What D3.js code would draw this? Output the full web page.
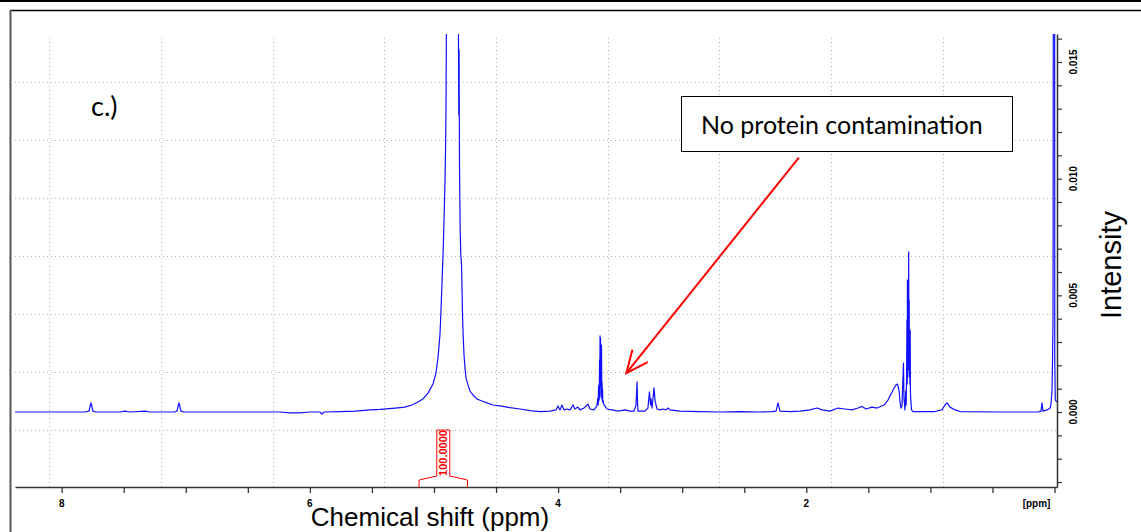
<!DOCTYPE html>
<html>
<head>
<meta charset="utf-8">
<script src="https://cdn.jsdelivr.net/npm/d3@7"></script>
<style>
  body { margin: 0; background: #fff; }
  svg { display: block; }
</style>
</head>
<body>
<svg id="chart" width="1141" height="532"></svg>
<script>
// 1H spectrum: [chemical shift (ppm), intensity]
// peaks that run off the top are given an off-scale value and clipped
const spectrum = [
    [8.376,0],[7.812,0],[7.780,0.00004],[7.764,0.00039],[7.748,0.00004],[7.724,0],[7.530,0],[7.490,0.00004],
    [7.450,0],[7.329,0.00004],[7.289,0],[7.087,0],[7.071,0.00004],[7.055,0.00039],[7.039,0.00004],[7.014,0],
    [6.563,0],[6.241,0],[6.160,-0.00004],[6.080,-0.00004],[5.999,0],[5.919,0],[5.903,-0.00009],[5.886,0],
    [5.757,0.00002],[5.637,0.00004],[5.516,0.00009],[5.435,0.00011],[5.314,0.00017],[5.234,0.00021],
    [5.177,0.00030],[5.129,0.00043],[5.089,0.00056],[5.048,0.00081],[5.008,0.00120],[4.984,0.00167],
    [4.968,0.00231],[4.952,0.00330],[4.944,0.00429],[4.936,0.00544],[4.927,0.00673],[4.919,0.00823],
    [4.911,0.00994],[4.907,0.01123],[4.903,0.01307],[4.900,0.0165],[4.855,0.05],[4.803,0.0165],
    [4.800,0.01273],[4.798,0.01552],[4.794,0.01037],[4.789,0.00780],[4.784,0.00673],[4.778,0.00630],
    [4.774,0.00523],[4.770,0.00416],[4.765,0.00330],[4.758,0.00244],[4.750,0.00189],[4.742,0.00146],
    [4.726,0.00116],[4.710,0.00090],[4.686,0.00073],[4.654,0.00056],[4.613,0.00047],[4.573,0.00039],
    [4.525,0.00030],[4.468,0.00026],[4.388,0.00019],[4.307,0.00013],[4.226,0.00006],[4.146,0.00002],
    [4.065,0.00004],[4.017,0.00009],[4.001,0.00026],[3.985,0.00009],[3.969,0.00030],[3.952,0.00009],
    [3.928,0.00013],[3.904,0.00009],[3.880,0.00030],[3.864,0.00013],[3.840,0.00021],[3.824,0.00009],
    [3.791,0.00017],[3.759,0.00034],[3.743,0.00013],[3.711,0.00009],[3.687,0.00026],[3.680,0.00060],
    [3.677,0.00030],[3.674,0.00110],[3.672,0.00045],[3.670,0.00120],[3.668,0.00055],[3.666,0.00223],
    [3.664,0.00070],[3.662,0.00326],[3.660,0.00300],[3.658,0.00317],[3.656,0.00110],[3.654,0.00180],
    [3.652,0.00060],[3.650,0.00287],[3.648,0.00080],[3.646,0.00129],[3.644,0.00050],[3.642,0.00100],
    [3.640,0.00040],[3.638,0.00051],[3.630,0.00030],[3.622,0.00026],[3.606,0.00013],
    [3.566,0.00009],[3.517,0.00004],[3.461,0.00009],[3.421,0.00004],[3.388,0.00004],[3.372,0.00030],
    [3.364,0.00129],[3.359,0.00030],[3.356,0.00004],[3.300,0.00004],[3.276,0.00017],[3.264,0.00086],
    [3.255,0.00030],[3.251,0.00056],[3.243,0.00017],[3.235,0.00060],[3.227,0.00103],[3.219,0.00051],
    [3.211,0.00030],[3.203,0.00013],[3.179,0.00009],[3.155,0.00013],[3.131,0.00009],[3.114,0.00017],
    [3.098,0.00009],[3.018,0.00004],[2.857,0.00002],[2.695,0],[2.534,0.00002],[2.373,0],[2.276,0.00002],
    [2.244,0.00004],[2.228,0.00039],[2.212,0.00004],[2.131,0.00002],[2.051,0.00004],[1.970,0.00009],
    [1.914,0.00017],[1.873,0.00009],[1.809,0.00004],[1.745,0.00017],[1.688,0.00013],[1.632,0.00009],
    [1.583,0.00017],[1.551,0.00024],[1.519,0.00013],[1.471,0.00021],[1.430,0.00017],[1.374,0.00030],
    [1.342,0.00051],[1.326,0.00069],[1.309,0.00086],[1.293,0.00103],[1.277,0.00116],[1.265,0.00120],
    [1.253,0.00094],[1.245,0.00043],[1.237,0.00017],[1.229,0.00026],[1.217,0.00210],[1.213,0.00060],
    [1.205,0.00009],[1.199,0.00090],[1.195,0.00030],[1.192,0.00150],[1.189,0.00394],[1.187,0.00120],
    [1.185,0.00566],[1.183,0.00150],[1.180,0.00351],[1.178,0.00200],[1.175,0.00686],[1.173,0.00180],
    [1.171,0.00480],[1.169,0.00150],[1.167,0.00309],[1.165,0.00120],[1.163,0.00351],[1.161,0.00090],
    [1.159,0.00060],[1.152,0.00009],[1.140,0.00002],
    [0.963,0.00002],[0.907,0.00009],[0.882,0.00030],[0.866,0.00039],[0.842,0.00021],[0.802,0.00009],
    [0.761,0.00002],[0.439,0],[0.133,0],[0.109,0.00004],[0.101,0.00039],[0.093,0.00004],[0.060,0.00009],
    [0.036,0.00017],[0.028,0.00034],[0.020,0.00094],[0.016,0.00223],[0.012,0.00407],[0.010,0.0165],
    [0.004,0.05],[-0.001,0.0165],[-0.002,0.00223],[-0.006,0.00051],[-0.020,0.00043]
];

const xMajorTicks = [8, 6, 4, 2, 0];
const xTickLabels = ["8", "6", "4", "2", "[ppm]"];
const yMajorTicks = [0, 0.005, 0.010, 0.015];
const yTickLabels = ["0.000", "0.005", "0.010", "0.015"];
const xGridPpm = [8.1, 7.2, 6.3, 5.4, 4.5, 3.6, 2.7, 1.8, 0.9];
const yGridIntensity = [-0.00077, 0.00171, 0.00420, 0.00669, 0.00917, 0.01166, 0.01414];
const integralRange = [5.12, 4.73];
const integralLabel = "100.0000";
const panelLabel = "c.)";
const noteText = "No protein contamination";
const arrowFromTo = [[2.06, 0.0109], [3.45, 0.00167]];   // ppm, intensity

/******************************
 * scales
 ******************************/
const svg = d3.select("#chart");
const plotLeft = 15, plotRight = 1057, plotTop = 34, plotBottom = 487;

const x = d3.scaleLinear().domain([8.376, -0.02]).range([plotLeft, plotRight]);
const y = d3.scaleLinear().domain([-0.003214, 0.0162]).range([plotBottom, plotTop]);

// outer frame lines
svg.append("line").attr("x1", 0).attr("x2", 1141).attr("y1", 1).attr("y2", 1)
    .attr("stroke", "#000").attr("stroke-width", 2);
svg.append("line").attr("x1", 10).attr("x2", 1141).attr("y1", 10.5).attr("y2", 10.5)
    .attr("stroke", "#000").attr("stroke-width", 1.5);
svg.append("line").attr("x1", 10.5).attr("x2", 10.5).attr("y1", 10).attr("y2", 532)
    .attr("stroke", "#555").attr("stroke-width", 2);

// dotted grid
const grid = svg.append("g").attr("stroke", "#b4b4b4").attr("stroke-width", 1)
    .attr("stroke-dasharray", "1,3");
grid.selectAll("line.v").data(xGridPpm).enter().append("line")
    .attr("x1", d => Math.round(x(d)) + 0.5).attr("x2", d => Math.round(x(d)) + 0.5)
    .attr("y1", 38).attr("y2", plotBottom);
grid.selectAll("line.h").data(yGridIntensity).enter().append("line")
    .attr("x1", plotLeft).attr("x2", plotRight)
    .attr("y1", d => Math.round(y(d)) + 0.5).attr("y2", d => Math.round(y(d)) + 0.5);

/******************************
 * spectrum
 ******************************/
svg.append("clipPath").attr("id", "plotClip").append("rect")
    .attr("x", plotLeft).attr("y", plotTop).attr("width", plotRight - plotLeft).attr("height", plotBottom - plotTop);

const line = d3.line().x(d => x(d[0])).y(d => y(d[1]));
svg.append("path")
    .datum(spectrum)
    .attr("clip-path", "url(#plotClip)")
    .attr("d", line)
    .attr("fill", "none")
    .attr("stroke", "#1010ff")
    .attr("stroke-width", 1.2)
    .attr("stroke-linejoin", "round");

/******************************
 * axes
 ******************************/
const xAxis = svg.append("g")
    .attr("transform", "translate(0," + plotBottom + ")")
    .call(d3.axisBottom(x).tickValues(d3.range(0, 8.01, 0.5)).tickSize(6).tickFormat("").tickSizeOuter(0));
xAxis.select(".domain").attr("stroke", "#333").attr("stroke-width", 1.5);
xAxis.selectAll(".tick line").attr("stroke", "#333").attr("stroke-width", 1.3);

svg.append("g").selectAll("text").data(xMajorTicks).enter().append("text")
    .attr("x", (d, i) => i === xMajorTicks.length - 1 ? x(d) - 18 : x(d))
    .attr("y", 507)
    .attr("text-anchor", "middle")
    .attr("font-family", "Liberation Sans, Arial, sans-serif")
    .attr("font-weight", "bold").attr("font-size", 10)
    .text((d, i) => xTickLabels[i]);

const yAxis = svg.append("g")
    .attr("transform", "translate(" + plotRight + ",0)")
    .call(d3.axisRight(y).tickValues(d3.range(-3, 17).map(v => v / 1000)).tickSize(5).tickFormat("").tickSizeOuter(0));
yAxis.select(".domain").attr("stroke", "#333").attr("stroke-width", 1.5);
yAxis.selectAll(".tick line").attr("stroke", "#333").attr("stroke-width", 1.2);

svg.append("g").selectAll("text").data(yMajorTicks).enter().append("text")
    .attr("transform", d => "translate(1077," + y(d) + ") rotate(-90)")
    .attr("text-anchor", "middle")
    .attr("font-family", "Liberation Sans, Arial, sans-serif")
    .attr("font-weight", "bold").attr("font-size", 10)
    .text((d, i) => yTickLabels[i]);

// axis titles
svg.append("text").attr("x", 430).attr("y", 526).attr("text-anchor", "middle")
    .attr("font-family", "Liberation Sans, Arial, sans-serif").attr("font-size", 26)
    .text("Chemical shift (ppm)");
svg.append("text").attr("transform", "translate(1121,265) rotate(-90)").attr("text-anchor", "middle")
    .attr("font-family", "Liberation Sans, Arial, sans-serif").attr("font-size", 29)
    .text("Intensity");

/******************************
 * integral marker
 ******************************/
const ix0 = x(integralRange[0]), ix1 = x(integralRange[1]);
const icx = (ix0 + ix1) / 2;
svg.append("path")
    .attr("d", "M" + ix0 + "," + plotBottom + "V480L" + (icx - 6.5) + ",476V430H" + (icx + 6.5) +
        "V476L" + ix1 + ",480V" + plotBottom)
    .attr("fill", "none").attr("stroke", "#f00").attr("stroke-width", 1);
svg.append("text")
    .attr("transform", "translate(" + (icx + 4) + ",453) rotate(-90)")
    .attr("text-anchor", "middle")
    .attr("font-family", "Liberation Sans, Arial, sans-serif")
    .attr("font-weight", "bold").attr("font-size", 11).attr("fill", "#f00")
    .text(integralLabel);

/******************************
 * annotations
 ******************************/
svg.append("text").attr("x", 91).attr("y", 116)
    .attr("font-family", "Lato, Open Sans, sans-serif").attr("font-size", 27)
    .text(panelLabel);

svg.append("rect").attr("x", 681.5).attr("y", 96.5).attr("width", 331).attr("height", 55)
    .attr("fill", "#fff").attr("stroke", "#000").attr("stroke-width", 1);
svg.append("text").attr("x", 701).attr("y", 134)
    .attr("font-family", "Lato, Open Sans, sans-serif").attr("font-size", 25)
    .text(noteText);

const ax0 = x(arrowFromTo[0][0]), ay0 = y(arrowFromTo[0][1]);
const ax1 = x(arrowFromTo[1][0]), ay1 = y(arrowFromTo[1][1]);
const ang = Math.atan2(ay1 - ay0, ax1 - ax0);
const headLen = 24, headSpread = 0.42;
svg.append("line").attr("x1", ax0).attr("y1", ay0).attr("x2", ax1).attr("y2", ay1)
    .attr("stroke", "#f00").attr("stroke-width", 2);
svg.append("path")
    .attr("d", "M" + (ax1 - headLen * Math.cos(ang - headSpread)) + "," + (ay1 - headLen * Math.sin(ang - headSpread)) +
        "L" + ax1 + "," + ay1 +
        "L" + (ax1 - headLen * Math.cos(ang + headSpread)) + "," + (ay1 - headLen * Math.sin(ang + headSpread)))
    .attr("fill", "none").attr("stroke", "#f00").attr("stroke-width", 2);
</script>
</body>
</html>
